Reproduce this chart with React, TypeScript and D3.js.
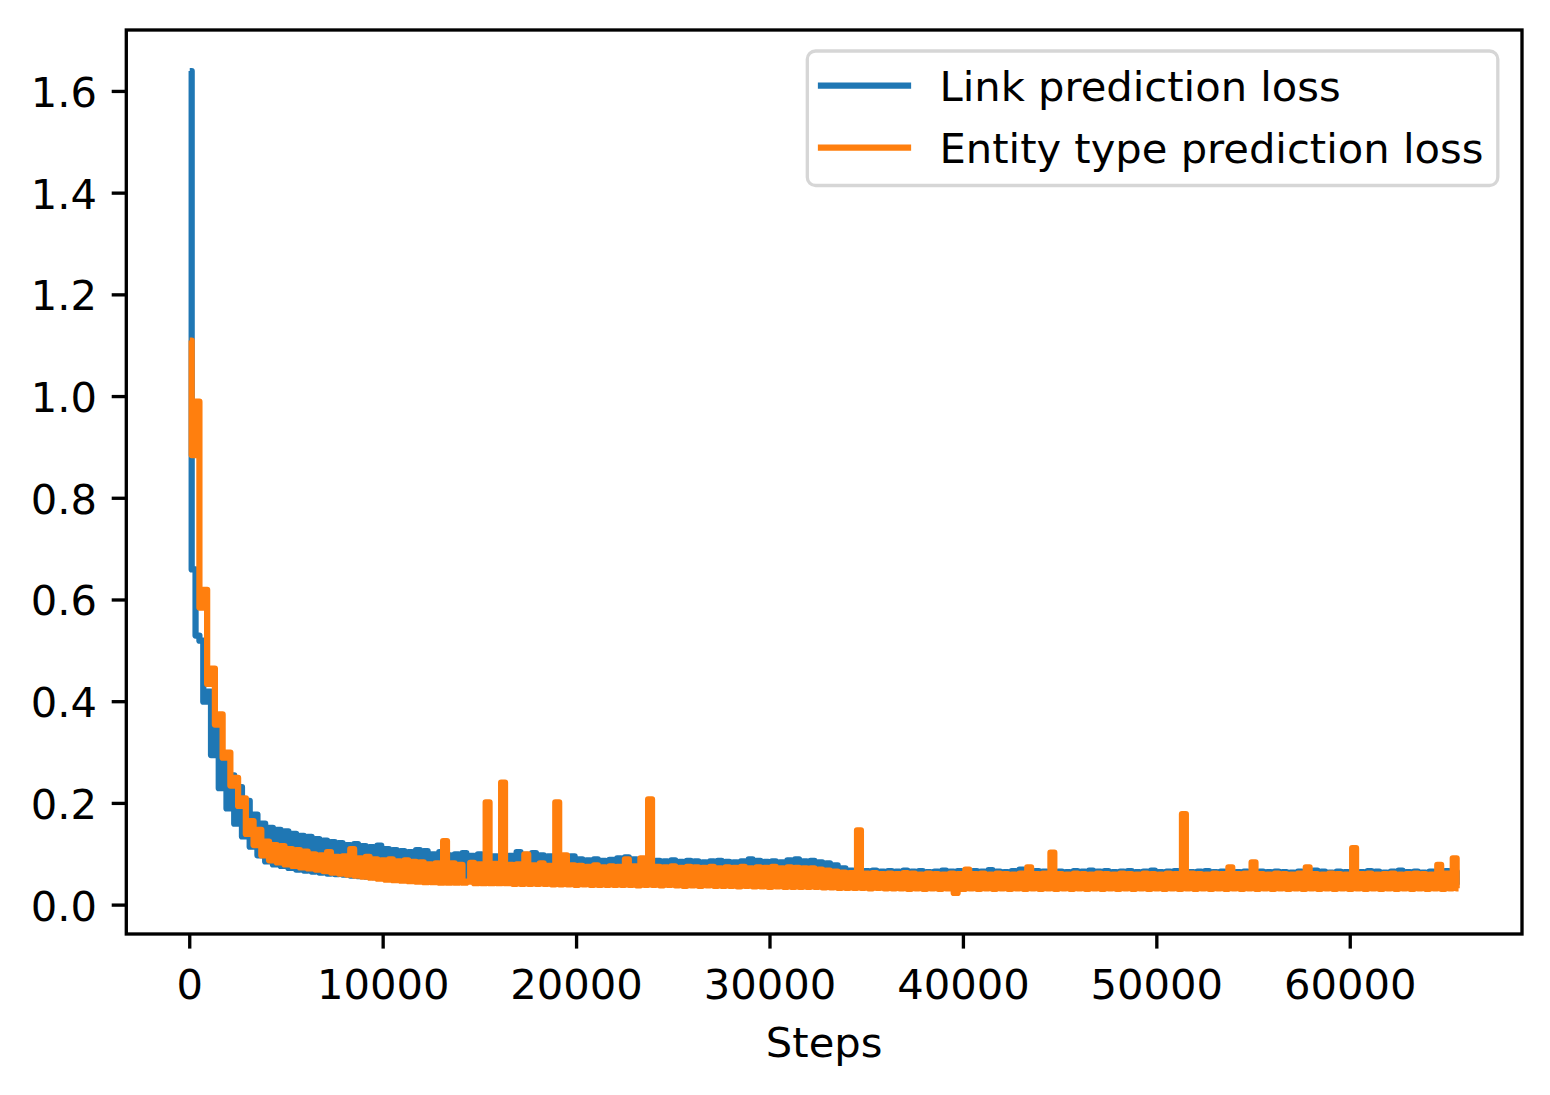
import React from 'react';
import * as d3 from 'd3';

// ---- data ----
const STEP_INTERVAL = 200; // steps between logged values
const xTicks = [0, 10000, 20000, 30000, 40000, 50000, 60000];
const yTicks = [0, 0.2, 0.4, 0.6, 0.8, 1.0, 1.2, 1.4, 1.6];
const yTickLabels = ['0.0', '0.2', '0.4', '0.6', '0.8', '1.0', '1.2', '1.4', '1.6'];
const seriesNames = ['Link prediction loss', 'Entity type prediction loss'];
const seriesColors = ['#1f77b4', '#ff7f0e'];

const linkLoss = [
  1.64, 0.66, 0.53, 0.52, 0.40, 0.42, 0.295, 0.345, 0.23, 0.29, 0.19, 0.255, 0.16, 0.232, 0.135, 0.205, 0.115, 0.178, 0.098, 0.16,
  0.086, 0.152, 0.08, 0.148, 0.077, 0.145, 0.073, 0.14, 0.07, 0.136, 0.068, 0.134, 0.066, 0.13, 0.064, 0.127, 0.062, 0.124, 0.061, 0.122,
  0.06, 0.118, 0.058, 0.12, 0.057, 0.116, 0.056, 0.114, 0.055, 0.117, 0.054, 0.11, 0.053, 0.108, 0.052, 0.106, 0.052, 0.104, 0.051, 0.108,
  0.05, 0.106, 0.05, 0.1, 0.049, 0.104, 0.049, 0.098, 0.048, 0.1, 0.048, 0.102, 0.048, 0.097, 0.047, 0.1, 0.047, 0.099, 0.047, 0.096,
  0.046, 0.1, 0.046, 0.097, 0.046, 0.104, 0.046, 0.099, 0.045, 0.102, 0.045, 0.098, 0.045, 0.096, 0.045, 0.099, 0.044, 0.094, 0.044, 0.096,
  0.044, 0.09, 0.044, 0.088, 0.044, 0.09, 0.043, 0.087, 0.043, 0.089, 0.043, 0.092, 0.043, 0.094, 0.043, 0.09, 0.042, 0.088, 0.042, 0.089,
  0.042, 0.087, 0.042, 0.086, 0.042, 0.088, 0.042, 0.085, 0.041, 0.087, 0.041, 0.086, 0.041, 0.084, 0.041, 0.086, 0.041, 0.087, 0.041, 0.085,
  0.041, 0.084, 0.04, 0.086, 0.04, 0.09, 0.04, 0.087, 0.04, 0.085, 0.04, 0.086, 0.04, 0.084, 0.04, 0.088, 0.04, 0.09, 0.04, 0.086,
  0.039, 0.087, 0.039, 0.084, 0.039, 0.082, 0.039, 0.078, 0.038, 0.072, 0.038, 0.068, 0.038, 0.069, 0.038, 0.067, 0.038, 0.068, 0.037, 0.066,
  0.037, 0.067, 0.037, 0.066, 0.037, 0.068, 0.037, 0.066, 0.037, 0.067, 0.036, 0.065, 0.036, 0.066, 0.036, 0.068, 0.036, 0.066, 0.036, 0.067,
  0.036, 0.066, 0.036, 0.067, 0.036, 0.066, 0.036, 0.069, 0.036, 0.066, 0.036, 0.065, 0.036, 0.067, 0.036, 0.07, 0.036, 0.066, 0.036, 0.067,
  0.036, 0.066, 0.036, 0.068, 0.036, 0.066, 0.036, 0.065, 0.036, 0.067, 0.036, 0.066, 0.036, 0.068, 0.036, 0.066, 0.036, 0.067, 0.036, 0.065,
  0.036, 0.066, 0.036, 0.067, 0.036, 0.065, 0.036, 0.066, 0.036, 0.068, 0.036, 0.065, 0.036, 0.066, 0.036, 0.067, 0.036, 0.066, 0.036, 0.065,
  0.036, 0.066, 0.036, 0.067, 0.036, 0.065, 0.036, 0.066, 0.036, 0.068, 0.036, 0.065, 0.036, 0.066, 0.036, 0.064, 0.036, 0.066, 0.036, 0.065,
  0.036, 0.066, 0.036, 0.065, 0.036, 0.064, 0.036, 0.066, 0.036, 0.065, 0.036, 0.068, 0.036, 0.066, 0.036, 0.064, 0.036, 0.066, 0.036, 0.065,
  0.036, 0.066, 0.036, 0.065, 0.036, 0.067, 0.036, 0.066, 0.036, 0.064, 0.036, 0.066, 0.036, 0.068, 0.036, 0.065, 0.036, 0.066, 0.036, 0.064,
  0.036, 0.066, 0.036, 0.065, 0.036, 0.067, 0.036, 0.066, 0.04,
];

const entityLoss = [
  1.11, 0.885, 0.99, 0.585, 0.62, 0.435, 0.465, 0.355, 0.375, 0.29, 0.30, 0.235, 0.25, 0.195, 0.21, 0.14, 0.165, 0.118, 0.148, 0.098,
  0.125, 0.088, 0.118, 0.084, 0.116, 0.08, 0.11, 0.077, 0.108, 0.074, 0.105, 0.072, 0.1, 0.07, 0.098, 0.067, 0.104, 0.064, 0.095, 0.062,
  0.096, 0.06, 0.11, 0.058, 0.092, 0.056, 0.095, 0.054, 0.09, 0.052, 0.088, 0.05, 0.09, 0.049, 0.086, 0.048, 0.088, 0.047, 0.085, 0.046,
  0.084, 0.045, 0.08, 0.045, 0.082, 0.044, 0.126, 0.044, 0.082, 0.044, 0.079, 0.044, 0.046, 0.083, 0.043, 0.08, 0.043, 0.202, 0.043, 0.081,
  0.043, 0.241, 0.043, 0.079, 0.042, 0.08, 0.042, 0.1, 0.042, 0.078, 0.042, 0.082, 0.042, 0.077, 0.041, 0.202, 0.041, 0.098, 0.041, 0.078,
  0.04, 0.077, 0.041, 0.075, 0.04, 0.078, 0.04, 0.074, 0.04, 0.076, 0.04, 0.075, 0.04, 0.09, 0.04, 0.076, 0.039, 0.092, 0.04, 0.208,
  0.04, 0.075, 0.039, 0.074, 0.04, 0.076, 0.039, 0.073, 0.038, 0.075, 0.039, 0.074, 0.038, 0.073, 0.039, 0.075, 0.038, 0.072, 0.038, 0.074,
  0.038, 0.073, 0.037, 0.075, 0.038, 0.072, 0.037, 0.074, 0.037, 0.073, 0.036, 0.075, 0.037, 0.072, 0.036, 0.074, 0.036, 0.073, 0.036, 0.072,
  0.036, 0.072, 0.036, 0.07, 0.035, 0.068, 0.035, 0.066, 0.034, 0.064, 0.034, 0.063, 0.034, 0.147, 0.034, 0.062, 0.033, 0.063, 0.034, 0.061,
  0.033, 0.062, 0.033, 0.061, 0.033, 0.063, 0.032, 0.062, 0.033, 0.06, 0.032, 0.062, 0.033, 0.061, 0.032, 0.06, 0.033, 0.062, 0.024, 0.061,
  0.032, 0.07, 0.033, 0.061, 0.032, 0.062, 0.033, 0.06, 0.032, 0.062, 0.033, 0.061, 0.032, 0.06, 0.033, 0.062, 0.032, 0.074, 0.033, 0.061,
  0.032, 0.062, 0.033, 0.103, 0.032, 0.061, 0.033, 0.06, 0.032, 0.062, 0.033, 0.061, 0.032, 0.06, 0.033, 0.062, 0.032, 0.061, 0.033, 0.06,
  0.032, 0.062, 0.033, 0.061, 0.032, 0.06, 0.033, 0.062, 0.032, 0.061, 0.033, 0.06, 0.032, 0.062, 0.033, 0.061, 0.032, 0.179, 0.033, 0.062,
  0.032, 0.061, 0.033, 0.06, 0.032, 0.062, 0.033, 0.061, 0.032, 0.074, 0.033, 0.061, 0.032, 0.062, 0.033, 0.084, 0.032, 0.061, 0.033, 0.06,
  0.032, 0.062, 0.033, 0.061, 0.032, 0.06, 0.033, 0.062, 0.032, 0.074, 0.033, 0.061, 0.032, 0.06, 0.033, 0.062, 0.032, 0.061, 0.033, 0.06,
  0.032, 0.112, 0.033, 0.061, 0.032, 0.062, 0.033, 0.06, 0.032, 0.061, 0.033, 0.062, 0.032, 0.06, 0.033, 0.061, 0.032, 0.062, 0.033, 0.061,
  0.032, 0.06, 0.033, 0.079, 0.032, 0.062, 0.033, 0.092, 0.033,
];

const xLabel = 'Steps';

// ---- layout ----
const W = 1550;
const H = 1095;
const PLOT = { left: 126.3, right: 1522, top: 30, bottom: 934 };
const FONT = '"DejaVu Sans", sans-serif';
const FS = 41.67;
const LW = 6.25;
const TICK = 14.6;

export default function App() {
  const series = [linkLoss, entityLoss];
  const n = Math.max(linkLoss.length, entityLoss.length);
  const xMax = (n - 1) * STEP_INTERVAL;
  const xPad = xMax * 0.05;
  const x = d3.scaleLinear().domain([-xPad, xMax + xPad]).range([PLOT.left, PLOT.right]);

  const all = [...linkLoss, ...entityLoss];
  const yMin = d3.min(all) as number;
  const yMax = d3.max(all) as number;
  const yPad = (yMax - yMin) * 0.05;
  const y = d3.scaleLinear().domain([yMin - yPad, yMax + yPad]).range([PLOT.bottom, PLOT.top]);

  // dense logged values drawn as steps so the noise fills a solid band
  const line = d3
    .line<number>()
    .x((_, i) => x(i * STEP_INTERVAL))
    .y((d) => y(d))
    .curve(d3.curveStep);

  return (
    <svg
      width={W}
      height={H}
      viewBox={`0 0 ${W} ${H}`}
      style={{ position: 'absolute', left: 0, top: 0, background: '#fff' }}
      fontFamily={FONT}
    >
      <rect x={0} y={0} width={W} height={H} fill="#fff" />
      <defs>
        <clipPath id="plotclip">
          <rect x={PLOT.left} y={PLOT.top} width={PLOT.right - PLOT.left} height={PLOT.bottom - PLOT.top} />
        </clipPath>
      </defs>

      <g clipPath="url(#plotclip)">
        {series.map((s, k) => (
          <path
            key={k}
            d={line(s) || ''}
            fill="none"
            stroke={seriesColors[k]}
            strokeWidth={LW}
            strokeLinejoin="round"
            strokeLinecap="butt"
          />
        ))}
      </g>

      {/* axes frame */}
      <rect
        x={PLOT.left}
        y={PLOT.top}
        width={PLOT.right - PLOT.left}
        height={PLOT.bottom - PLOT.top}
        fill="none"
        stroke="#000"
        strokeWidth={3.33}
        strokeLinejoin="miter"
      />

      {/* x ticks */}
      {xTicks.map((t) => (
        <g key={'x' + t}>
          <line x1={x(t)} x2={x(t)} y1={PLOT.bottom} y2={PLOT.bottom + TICK} stroke="#000" strokeWidth={3.33} />
          <text x={x(t)} y={999} fontSize={FS} textAnchor="middle" fill="#000">
            {String(t)}
          </text>
        </g>
      ))}

      {/* y ticks */}
      {yTicks.map((t, i) => (
        <g key={'y' + t}>
          <line x1={PLOT.left - TICK} x2={PLOT.left} y1={y(t)} y2={y(t)} stroke="#000" strokeWidth={3.33} />
          <text x={PLOT.left - TICK - 14.6} y={y(t) + 15.5} fontSize={FS} textAnchor="end" fill="#000">
            {yTickLabels[i]}
          </text>
        </g>
      ))}

      <text x={(PLOT.left + PLOT.right) / 2} y={1057} fontSize={FS} textAnchor="middle" fill="#000">
        {xLabel}
      </text>

      {/* legend */}
      <g>
        <rect x={807.3} y={51} width={690.5} height={134.5} rx={8.3} ry={8.3} fill="#fff" fillOpacity={0.8} stroke="#d6d6d6" strokeWidth={3.3} />
        {seriesNames.map((name, k) => {
          const cy = 85.5 + k * 62.2;
          return (
            <g key={name}>
              <line x1={821} x2={908} y1={cy} y2={cy} stroke={seriesColors[k]} strokeWidth={LW} strokeLinecap="square" />
              <text x={939.5} y={cy + 15.3} fontSize={FS} fill="#000">
                {name}
              </text>
            </g>
          );
        })}
      </g>
    </svg>
  );
}
